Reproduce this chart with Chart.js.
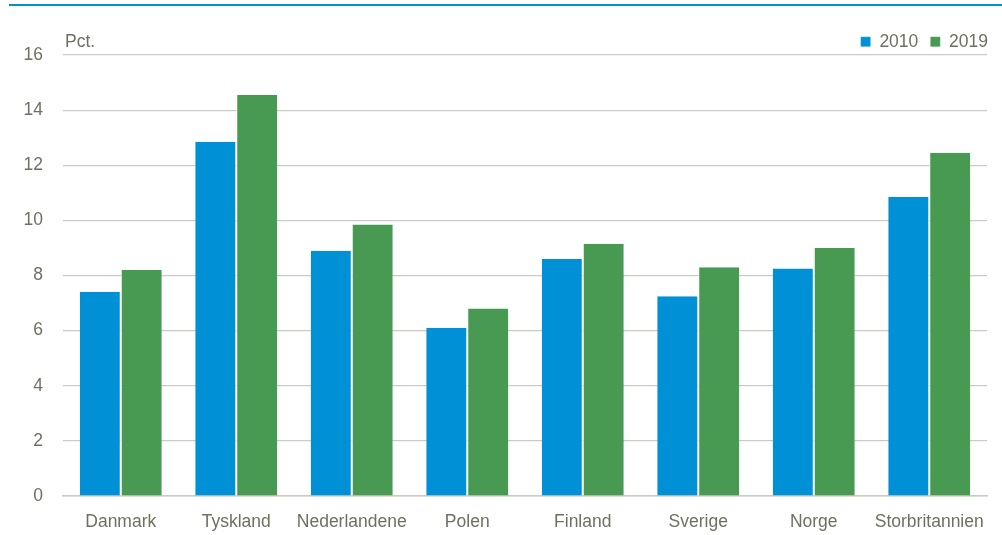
<!DOCTYPE html>
<html>
<head>
<meta charset="utf-8">
<script src="https://cdn.jsdelivr.net/npm/chart.js@4.4.0/dist/chart.umd.min.js"></script>
<style>
  body { margin: 0; background: #fff; }
  #wrap { position: relative; width: 1002px; height: 535px; }
  #topline { position: absolute; left: 9px; right: 0; top: 4px; height: 2px; background: #0090d6; }
</style>
</head>
<body>
<div id="wrap">
  <div id="topline"></div>
  <canvas id="chart_lande"></canvas>
</div>
<script>
/* data */
const lande = ['Danmark', 'Tyskland', 'Nederlandene', 'Polen', 'Finland', 'Sverige', 'Norge', 'Storbritannien'];
const vaerdi_2010 = [7.4, 12.85, 8.9, 6.1, 8.6, 7.25, 8.25, 10.85];
const vaerdi_2019 = [8.2, 14.55, 9.85, 6.8, 9.15, 8.3, 9.0, 12.45];
const y_ticks = [0, 2, 4, 6, 8, 10, 12, 14, 16];

const tekstFarve = '#6f6f62';
const gitterFarve = '#cbcbc3';
const fontFam = "'Liberation Sans', Arial, sans-serif";
const font_std = { size: 17.5, family: fontFam };

/* "Pct." over y-aksen + legenden lidt til hoejre */
const pctLabel = {
    id: 'pctLabel',
    afterInit(chart) {
        const lg = chart.legend;
        if (lg) {
            const fit = lg.fit.bind(lg);
            lg.fit = function () { fit(); this.height = 30; };
        }
    },
    afterLayout(chart) {
        const lg = chart.legend;
        if (lg) {
            lg.left += 13; lg.right += 13;
            lg.top -= 4; lg.bottom -= 4;
        }
    },
    afterDraw(chart) {
        const ctx = chart.ctx;
        ctx.save();
        ctx.font = '17.5px ' + fontFam;
        ctx.fillStyle = tekstFarve;
        ctx.textBaseline = 'middle';
        ctx.fillText('Pct.', chart.chartArea.left + 2, 42);
        ctx.restore();
    }
};

const data_lande = {
    labels: lande,
    datasets: [{
        label: '2010',
        data: vaerdi_2010,
        backgroundColor: '#0090d6',
        borderColor: '#ffffff',
        borderWidth: { left: 0, right: 1, top: 0, bottom: 0 },
        barPercentage: 1,
        categoryPercentage: 0.71
    }, {
        label: '2019',
        data: vaerdi_2019,
        backgroundColor: '#489a52',
        borderColor: '#ffffff',
        borderWidth: { left: 1, right: 0, top: 0, bottom: 0 },
        barPercentage: 1,
        categoryPercentage: 0.71
    }]
};

const chart_lande = new Chart(document.getElementById('chart_lande'), {
    type: 'bar',
    data: data_lande,
    plugins: [pctLabel],
    options: {
        responsive: true,
        maintainAspectRatio: false,
        animation: false,
        layout: { padding: { top: 25, right: 15, left: 0, bottom: 0 } },
        plugins: {
            legend: {
                position: 'top',
                align: 'end',
                labels: {
                    boxWidth: 10,
                    boxHeight: 10,
                    color: tekstFarve,
                    font: font_std,
                    padding: 12
                }
            },
            tooltip: { enabled: false }
        },
        scales: {
            x: {
                grid: { display: false, drawTicks: false },
                border: { color: gitterFarve, width: 1.5 },
                ticks: { color: tekstFarve, font: font_std, padding: 16, maxRotation: 0, autoSkip: false },
                afterFit(axis) { axis.height = 39; }
            },
            y: {
                min: 0,
                max: 16,
                afterBuildTicks(axis) { axis.ticks = y_ticks.map(v => ({ value: v })); },
                afterFit(axis) { axis.width = 63; },
                grid: { color: gitterFarve, lineWidth: 1.2, drawTicks: false },
                border: { display: false },
                ticks: { color: tekstFarve, font: font_std, padding: 20 }
            }
        }
    }
});
</script>
</body>
</html>
